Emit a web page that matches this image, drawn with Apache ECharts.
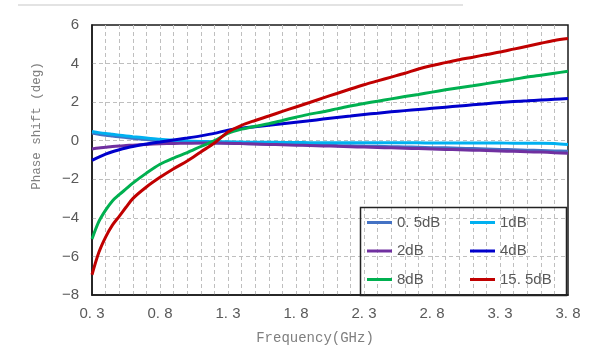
<!DOCTYPE html>
<html>
<head>
<meta charset="utf-8">
<script src="https://cdn.jsdelivr.net/npm/echarts@6/dist/echarts.min.js"></script>
<style>html,body{margin:0;padding:0;background:#fff}#c{width:597px;height:356px}</style>
</head>
<body>
<div id="c"></div>
<script>
var freq = [0.3,0.35,0.4,0.45,0.5,0.55,0.6,0.7,0.8,0.9,1.0,1.1,1.2,1.3,1.4,1.5,1.6,1.7,1.8,1.9,2.0,2.1,2.2,2.3,2.4,2.5,2.6,2.7,2.8,2.9,3.0,3.1,3.2,3.3,3.4,3.5,3.6,3.7,3.8];
var s05dB = [0.40,0.33,0.28,0.24,0.20,0.16,0.13,0.06,0.00,-0.05,-0.08,-0.10,-0.12,-0.13,-0.15,-0.16,-0.17,-0.19,-0.20,-0.22,-0.23,-0.25,-0.26,-0.28,-0.29,-0.31,-0.32,-0.34,-0.36,-0.37,-0.39,-0.41,-0.43,-0.45,-0.47,-0.49,-0.51,-0.53,-0.55];
var s1dB = [0.48,0.42,0.37,0.33,0.29,0.25,0.21,0.14,0.07,0.02,-0.02,-0.04,-0.05,-0.06,-0.07,-0.08,-0.08,-0.09,-0.09,-0.10,-0.10,-0.10,-0.10,-0.11,-0.11,-0.11,-0.11,-0.11,-0.12,-0.12,-0.12,-0.12,-0.12,-0.12,-0.13,-0.13,-0.13,-0.14,-0.20];
var s2dB = [-0.43,-0.38,-0.34,-0.30,-0.27,-0.25,-0.23,-0.19,-0.16,-0.14,-0.13,-0.12,-0.12,-0.13,-0.15,-0.17,-0.19,-0.21,-0.23,-0.25,-0.27,-0.29,-0.31,-0.33,-0.35,-0.37,-0.39,-0.41,-0.43,-0.45,-0.47,-0.49,-0.51,-0.53,-0.55,-0.57,-0.59,-0.62,-0.65];
var s4dB = [-1.02,-0.85,-0.70,-0.57,-0.47,-0.38,-0.30,-0.17,-0.07,0.04,0.14,0.25,0.38,0.55,0.65,0.72,0.80,0.88,0.96,1.04,1.12,1.20,1.28,1.36,1.43,1.50,1.56,1.62,1.68,1.74,1.80,1.86,1.92,1.98,2.03,2.07,2.11,2.15,2.19];
var s8dB = [-5.10,-4.20,-3.60,-3.12,-2.80,-2.50,-2.20,-1.68,-1.22,-0.90,-0.62,-0.30,0.00,0.38,0.60,0.75,0.88,1.05,1.22,1.38,1.50,1.65,1.80,1.93,2.05,2.17,2.29,2.40,2.52,2.64,2.75,2.85,2.96,3.07,3.18,3.30,3.40,3.50,3.60];
var s155dB = [-6.95,-5.80,-5.00,-4.38,-3.92,-3.45,-3.00,-2.40,-1.90,-1.45,-1.05,-0.58,-0.12,0.45,0.80,1.05,1.28,1.52,1.75,1.98,2.22,2.45,2.68,2.90,3.10,3.30,3.50,3.72,3.90,4.05,4.20,4.33,4.47,4.60,4.75,4.90,5.05,5.20,5.30];
var seriesNames = ['0. 5dB','1dB','2dB','4dB','8dB','15. 5dB'];
var seriesValues = [s05dB, s1dB, s2dB, s4dB, s8dB, s155dB];
var colors = ['#4472C4','#00B0F0','#7030A0','#0000CC','#00B050','#C00000'];
var xTitle = 'Frequency(GHz)';
var yTitle = 'Phase shift (deg)';

function pairs(vals){ return freq.map(function(f,i){ return [f, vals[i]]; }); }

var chart = echarts.init(document.getElementById('c'), null, {renderer:'canvas'});
var tickFont = {color:'#595959', fontSize:15, fontFamily:'Liberation Sans'};
var dash = {color:'#BFBFBF', width:1, type:[4,3]};
var option = {
  animation:false,
  backgroundColor:'#fff',
  grid:{left:92, right:29, top:25, bottom:61, show:true, borderColor:'#1a1a1a', borderWidth:1.5, backgroundColor:'transparent'},
  xAxis:{
    type:'value', min:0.3, max:3.8, interval:0.5,
    axisLine:{show:true, onZero:false, lineStyle:{color:'#1a1a1a', width:1.5}},
    axisTick:{show:false},
    axisLabel:Object.assign({margin:11, formatter:function(v){ return v.toFixed(1).replace('.', '. '); }}, tickFont),
    splitLine:{show:true, showMinLine:false, showMaxLine:false, lineStyle:dash},
    minorTick:{show:false, splitNumber:5},
    minorSplitLine:{show:true, lineStyle:dash}
  },
  yAxis:{
    type:'value', min:-8, max:6, interval:2,
    axisLine:{show:true, onZero:false, lineStyle:{color:'#1a1a1a', width:1.5}},
    axisTick:{show:false},
    axisLabel:Object.assign({margin:13, formatter:function(v){ return String(v).replace('-', '\u2212'); }}, tickFont),
    splitLine:{show:true, showMinLine:false, showMaxLine:false, lineStyle:dash}
  },
  legend:[
    {data:[seriesNames[0],seriesNames[2],seriesNames[4]], orient:'vertical', left:367, top:215, itemWidth:25, itemHeight:3, itemGap:13.5, icon:'rect', textStyle:{color:'#595959', fontSize:15, fontFamily:'Liberation Sans'}, padding:0},
    {data:[seriesNames[1],seriesNames[3],seriesNames[5]], orient:'vertical', left:470, top:215, itemWidth:25, itemHeight:3, itemGap:13.5, icon:'rect', textStyle:{color:'#595959', fontSize:15, fontFamily:'Liberation Sans'}, padding:0}
  ],
  graphic:[
    {type:'line', shape:{x1:18, y1:5, x2:463, y2:5}, style:{stroke:'#E3E3E3', lineWidth:2}},
    {type:'rect', shape:{x:360.5, y:207.5, width:206, height:88}, style:{fill:null, stroke:'#222', lineWidth:1.5}, z:10},
    {type:'text', x:315, y:338, style:{text:xTitle, fill:'#7F7F7F', font:'14px "Liberation Mono"', textAlign:'center', textVerticalAlign:'middle'}},
    {type:'text', x:37, y:126, rotation:Math.PI/2, style:{text:yTitle, fill:'#7F7F7F', font:'12.5px "Liberation Mono"', textAlign:'center', textVerticalAlign:'middle'}}
  ],
  series: seriesNames.map(function(n,i){
    return {name:n, type:'line', data:pairs(seriesValues[i]), showSymbol:false, symbol:'none', smooth:0.3,
      lineStyle:{color:colors[i], width:3}, itemStyle:{color:colors[i]}, z:2+i};
  })
};
chart.setOption(option);
</script>
</body>
</html>
